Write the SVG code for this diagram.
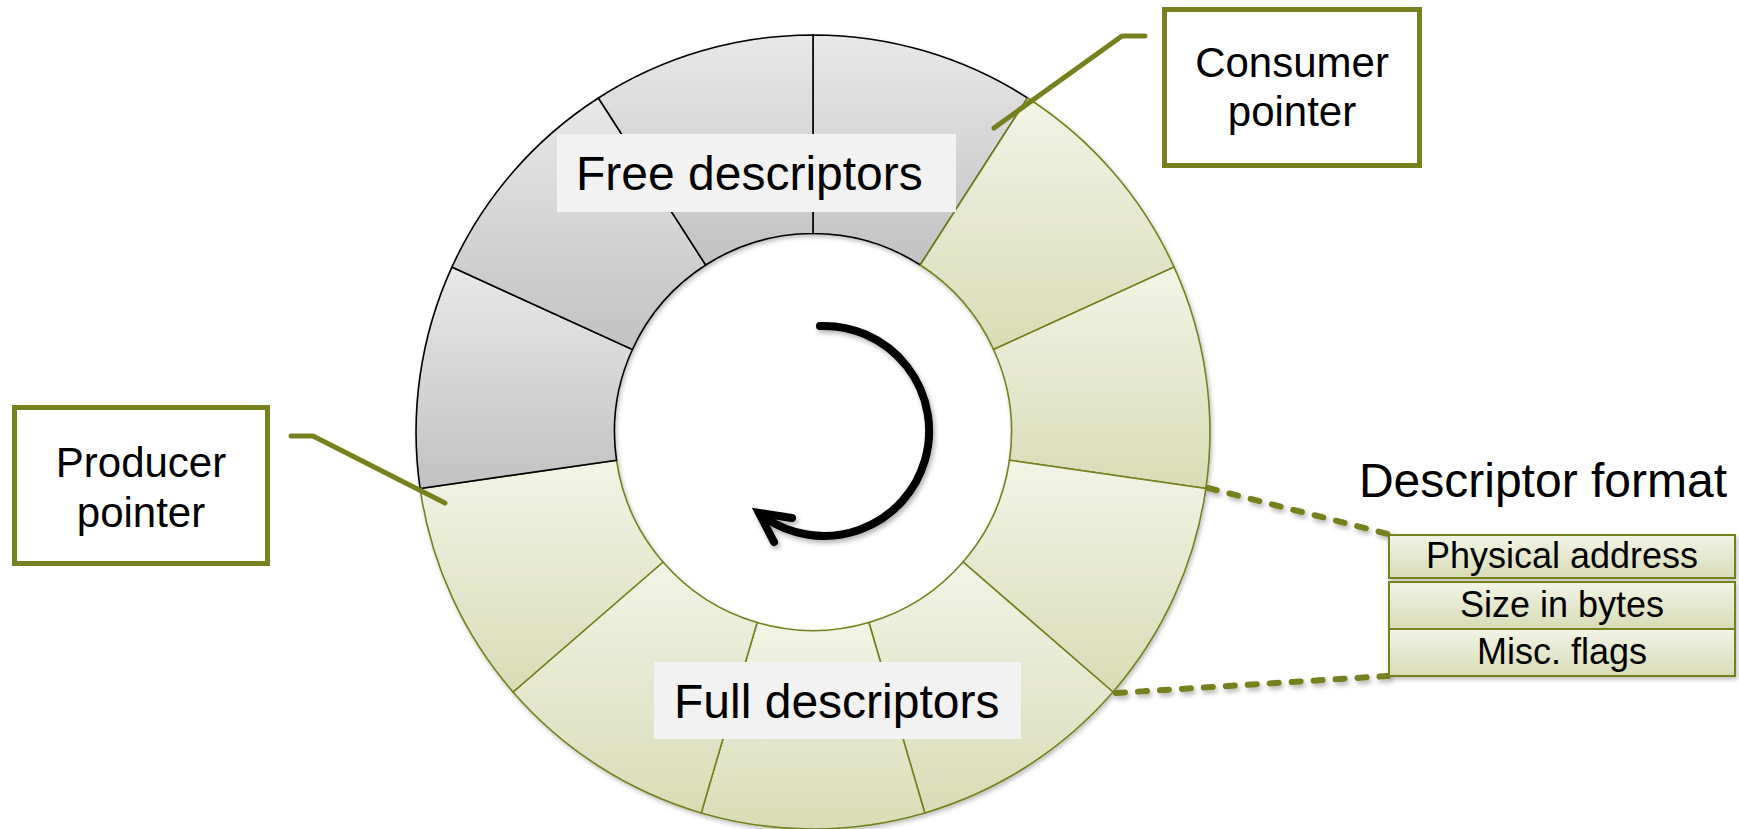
<svg xmlns="http://www.w3.org/2000/svg" width="1739" height="829" viewBox="0 0 1739 829">
<defs>
<linearGradient id="gGrey" x1="0" y1="0" x2="0" y2="1"><stop offset="0" stop-color="#e8e8e8"/><stop offset="1" stop-color="#c2c2c2"/></linearGradient>
<linearGradient id="gGreen" x1="0" y1="0" x2="0" y2="1"><stop offset="0" stop-color="#f2f4e6"/><stop offset="1" stop-color="#d8dcb6"/></linearGradient>
<filter id="sh" x="-20%" y="-20%" width="140%" height="140%"><feDropShadow dx="2" dy="3" stdDeviation="2.5" flood-color="#000" flood-opacity="0.3"/></filter>
<filter id="shs" x="-5%" y="-5%" width="110%" height="110%"><feDropShadow dx="1.5" dy="2.5" stdDeviation="2" flood-color="#000" flood-opacity="0.25"/></filter>
</defs>
<style>
.grey{fill:url(#gGrey);stroke:#000;stroke-width:1.6}
.green{fill:url(#gGreen);stroke:#76801e;stroke-width:1.6}
.lbl{fill:#f2f2f2}
.t{font-family:"Liberation Sans",Arial,sans-serif;fill:#000}
.ptr{fill:#fff;stroke:#76801e;stroke-width:5}
.lead{fill:none;stroke:#76801e;stroke-width:5;stroke-linecap:round;stroke-linejoin:round}
.dash{fill:none;stroke:#76801e;stroke-width:6;stroke-linecap:round;stroke-dasharray:9 13}
.row{fill:url(#gGreen);stroke:#76801e;stroke-width:2}
</style>
<g id="ring" filter="url(#shs)">
<path id="seg0" class="grey" d="M813,35 A397,397 0 0 1 1027.6,98 L920.3,265 A198.5,198.5 0 0 0 813,233.5 Z"/>
<path id="seg1" class="green" d="M1027.6,98 A397,397 0 0 1 1174.1,267.1 L993.6,349.5 A198.5,198.5 0 0 0 920.3,265 Z"/>
<path id="seg2" class="green" d="M1174.1,267.1 A397,397 0 0 1 1205.9,488.5 L1009.5,460.2 A198.5,198.5 0 0 0 993.6,349.5 Z"/>
<path id="seg3" class="green" d="M1205.9,488.5 A397,397 0 0 1 1113,692 L963,562 A198.5,198.5 0 0 0 1009.5,460.2 Z"/>
<path id="seg4" class="green" d="M1113,692 A397,397 0 0 1 924.8,812.9 L868.9,622.5 A198.5,198.5 0 0 0 963,562 Z"/>
<path id="seg5" class="green" d="M924.8,812.9 A397,397 0 0 1 701.2,812.9 L757.1,622.5 A198.5,198.5 0 0 0 868.9,622.5 Z"/>
<path id="seg6" class="green" d="M701.2,812.9 A397,397 0 0 1 513,692 L663,562 A198.5,198.5 0 0 0 757.1,622.5 Z"/>
<path id="seg7" class="green" d="M513,692 A397,397 0 0 1 420.1,488.5 L616.5,460.2 A198.5,198.5 0 0 0 663,562 Z"/>
<path id="seg8" class="grey" d="M420.1,488.5 A397,397 0 0 1 451.9,267.1 L632.4,349.5 A198.5,198.5 0 0 0 616.5,460.2 Z"/>
<path id="seg9" class="grey" d="M451.9,267.1 A397,397 0 0 1 598.4,98 L705.7,265 A198.5,198.5 0 0 0 632.4,349.5 Z"/>
<path id="seg10" class="grey" d="M598.4,98 A397,397 0 0 1 813,35 L813,233.5 A198.5,198.5 0 0 0 705.7,265 Z"/>
</g>
<g id="rotation" filter="url(#sh)">
<path d="M820,326 A105,105 0 1 1 764,517" fill="none" stroke="#000" stroke-width="8" stroke-linecap="round"/>
<path d="M792,518 L759,513 L774,542" fill="none" stroke="#000" stroke-width="8" stroke-linecap="round" stroke-linejoin="miter"/>
</g>
<g id="free-label">
<rect class="lbl" x="557" y="134" width="399" height="78"/>
<text class="t" x="576" y="190" font-size="48">Free descriptors</text>
</g>
<g id="full-label">
<rect class="lbl" x="654" y="662" width="367" height="77"/>
<text class="t" x="674" y="718" font-size="48">Full descriptors</text>
</g>
<g id="connectors">
<path class="lead" d="M1145,36 L1122,36 L994,128"/>
<path class="lead" d="M291,436 L313,436 L445,503"/>
<g filter="url(#sh)">
<path class="dash" d="M1208,488 L1388,534"/>
<path class="dash" d="M1116,693 L1388,676"/>
</g>
</g>
<g id="consumer">
<rect class="ptr" x="1164.5" y="9.5" width="255" height="156"/>
<text class="t" x="1292" y="77" font-size="42" text-anchor="middle">Consumer</text>
<text class="t" x="1292" y="126" font-size="42" text-anchor="middle">pointer</text>
</g>
<g id="producer">
<rect class="ptr" x="14.5" y="407.5" width="253" height="156"/>
<text class="t" x="141" y="477" font-size="42" text-anchor="middle">Producer</text>
<text class="t" x="141" y="527" font-size="42" text-anchor="middle">pointer</text>
</g>
<g id="descriptor-format">
<text class="t" x="1727" y="497" font-size="48" text-anchor="end">Descriptor format</text>
<g filter="url(#shs)">
<rect class="row" x="1389" y="535" width="346" height="43"/>
<rect class="row" x="1389" y="582" width="346" height="47"/>
<rect class="row" x="1389" y="629" width="346" height="47"/>
</g>
<text class="t" x="1562" y="568" font-size="36" text-anchor="middle">Physical address</text>
<text class="t" x="1562" y="617" font-size="36" text-anchor="middle">Size in bytes</text>
<text class="t" x="1562" y="664" font-size="36" text-anchor="middle">Misc. flags</text>
</g>
</svg>
